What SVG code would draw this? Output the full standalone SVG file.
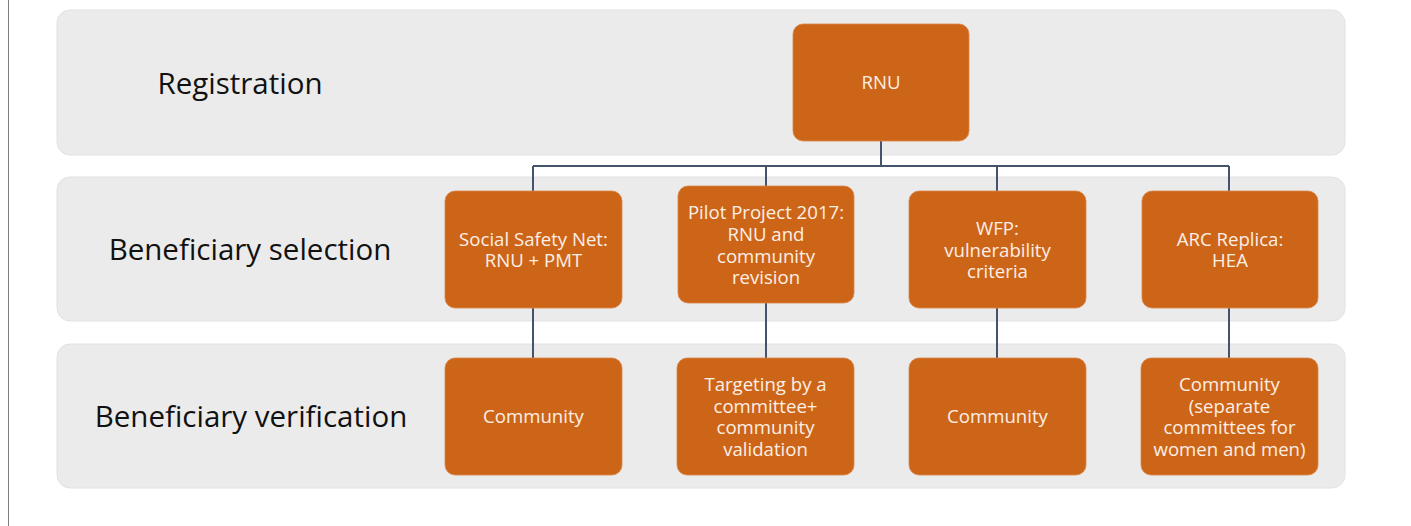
<svg xmlns="http://www.w3.org/2000/svg" width="1411" height="526" viewBox="0 0 1411 526">
<style>
.band{fill:#EBEBEB;stroke:#E2E2E2;stroke-width:1}
.box{fill:#CD6518;stroke:#D9854A;stroke-width:0.8}
.lbl{font-family:"Open Sans",Lato,sans-serif;font-size:29.5px;fill:#111;text-anchor:middle}
.t{font-family:"Open Sans",Lato,sans-serif;font-size:18.6px;fill:#FCEFE6;text-anchor:middle}
.c{fill:none;stroke:#44546A;stroke-width:2}
</style>
<rect width="1411" height="526" fill="#FFFFFF"/>
<line x1="8.5" y1="0" x2="8.5" y2="526" stroke="#7F7F7F" stroke-width="1"/>
<g id="bands">
<rect class="band" x="57" y="10" width="1288" height="145" rx="13"/>
<rect class="band" x="57" y="177" width="1288" height="144" rx="13"/>
<rect class="band" x="57" y="344" width="1288" height="144" rx="13"/>
<text class="lbl" x="240" y="94">Registration</text>
<text class="lbl" x="250" y="260">Beneficiary selection</text>
<text class="lbl" x="251" y="427">Beneficiary verification</text>
</g>
<g id="connectors">
<path class="c" d="M881 141V166M533 166H1229M533 166V191M766 166V186M997 166V191M1229 166V191"/>
<path class="c" d="M533 308V358M766 303V358M997 308V358M1229 308V358"/>
</g>
<g id="rnu"><rect class="box" x="793" y="24" width="176" height="117" rx="10"/><text class="t" x="881" y="89">RNU</text></g>
<g id="ssn"><rect class="box" x="445" y="191" width="177" height="117" rx="10"/><text class="t" x="533.5" y="246">Social Safety Net:</text><text class="t" x="533.5" y="267">RNU + PMT</text></g>
<g id="pilot"><rect class="box" x="678" y="186" width="176" height="117" rx="10"/><text class="t" x="766" y="219">Pilot Project 2017:</text><text class="t" x="766" y="241">RNU and</text><text class="t" x="766" y="263">community</text><text class="t" x="766" y="284">revision</text></g>
<g id="wfp"><rect class="box" x="909" y="191" width="177" height="117" rx="10"/><text class="t" x="997.5" y="235">WFP:</text><text class="t" x="997.5" y="257">vulnerability</text><text class="t" x="997.5" y="278">criteria</text></g>
<g id="arc"><rect class="box" x="1142" y="191" width="176" height="117" rx="10"/><text class="t" x="1230" y="246">ARC Replica:</text><text class="t" x="1230" y="267">HEA</text></g>
<g id="comm1"><rect class="box" x="445" y="358" width="177" height="117" rx="10"/><text class="t" x="533.5" y="423">Community</text></g>
<g id="target"><rect class="box" x="677" y="358" width="177" height="117" rx="10"/><text class="t" x="765.5" y="391">Targeting by a</text><text class="t" x="765.5" y="413">committee+</text><text class="t" x="765.5" y="434">community</text><text class="t" x="765.5" y="456">validation</text></g>
<g id="comm2"><rect class="box" x="909" y="358" width="177" height="117" rx="10"/><text class="t" x="997.5" y="423">Community</text></g>
<g id="comm3"><rect class="box" x="1141" y="358" width="177" height="117" rx="10"/><text class="t" x="1229.5" y="391">Community</text><text class="t" x="1229.5" y="413">(separate</text><text class="t" x="1229.5" y="434">committees for</text><text class="t" x="1229.5" y="456">women and men)</text></g>
</svg>
